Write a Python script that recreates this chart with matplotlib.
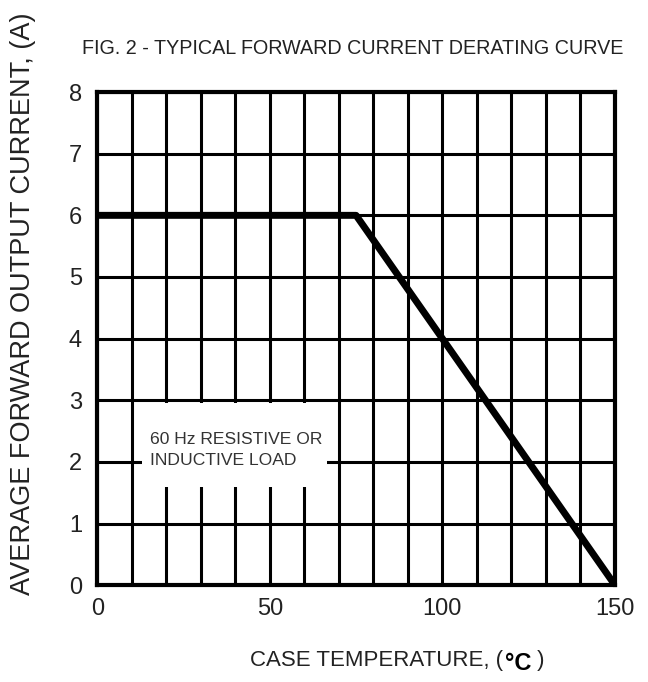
import numpy as np
import matplotlib.pyplot as plt
from matplotlib.patches import Rectangle

# courbe de derating
temp = [0, 75, 150]
courant = [6.0, 6.0, 0.0]

xticks = [0, 50, 100, 150]
yticks = [0, 1, 2, 3, 4, 5, 6, 7, 8]

plt.rcParams['font.family'] = ['Liberation Sans', 'DejaVu Sans']
gris = '#222222'

fig = plt.figure(figsize=(6.48, 6.82), dpi=100)
ax = fig.add_axes([0.150, 0.142, 0.799, 0.723])

ax.set_xlim(0, 150)
ax.set_ylim(0, 8)
ax.set_xticks(np.arange(0, 151, 10), minor=True)
ax.set_xticks(xticks)
ax.set_yticks(yticks)
ax.grid(True, which='both', color='black', linewidth=2.2)
ax.tick_params(which='both', length=0, labelsize=17, colors=gris)
ax.tick_params(axis='y', pad=11)
ax.tick_params(axis='x', pad=9)
for s in ax.spines.values():
    s.set_linewidth(3)
    s.set_zorder(7)

ax.plot(temp, courant, color='black', linewidth=5, solid_capstyle='butt', zorder=5)

# cache blanc derriere la note
ax.add_patch(Rectangle((13, 1.6), 53.5, 1.35, facecolor='white', edgecolor='none', zorder=4))
ax.text(15.3, 2.2, "60 Hz RESISTIVE OR\nINDUCTIVE LOAD", fontsize=12.6,
        color='#333333', va='center', ha='left', linespacing=1.5, zorder=6)

t1 = fig.text(250 / 648, 1 - 666 / 682, "CASE TEMPERATURE, (", fontsize=16,
              color=gris, ha='left', va='baseline')
t2 = ax.annotate("°C", xy=(1, 0), xycoords=t1, xytext=(1, -3), textcoords='offset points',
                 fontsize=17, fontweight='bold', color='black', ha='left', va='bottom')
ax.annotate(" )", xy=(1, 0), xycoords=t2, xytext=(0, 3), textcoords='offset points',
            fontsize=16, color=gris, ha='left', va='bottom')

fig.text(0.035, 1 - 304 / 682, "AVERAGE FORWARD OUTPUT CURRENT, (A)", rotation=90,
         fontsize=19.5, color=gris, ha='center', va='center')
fig.text(82 / 648, 1 - 48 / 682, "FIG. 2 - TYPICAL FORWARD CURRENT DERATING CURVE",
         fontsize=14.2, color=gris, ha='left', va='center')

fig.savefig("out.png", dpi=100)
